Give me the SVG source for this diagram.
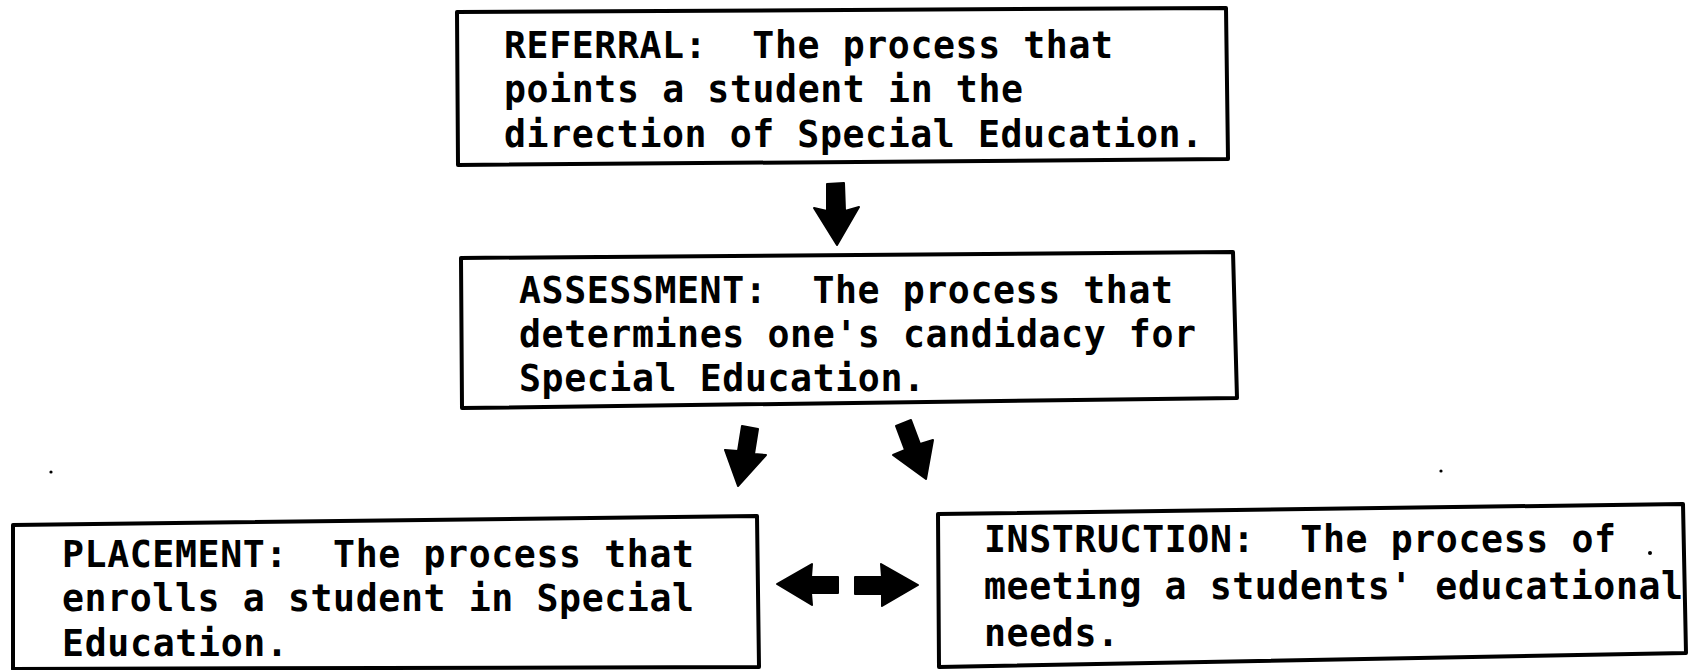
<svg xmlns="http://www.w3.org/2000/svg" width="1690" height="670" viewBox="0 0 1690 670">
  <style>
    .box { fill: #ffffff; stroke: #000000; stroke-width: 4; stroke-linejoin: round; }
    .label { font-family: "DejaVu Sans Mono", "Liberation Mono", monospace; font-weight: bold; font-size: 36.5px; fill: #000000; white-space: pre; }
    .arrow { fill: #000000; stroke: #000000; stroke-width: 2; stroke-linejoin: round; }
    .speck { fill: #000000; }
  </style>

  <rect x="0" y="0" width="1690" height="670" fill="#ffffff"/>

  <!-- Referral -->
  <g id="node-referral">
    <polygon class="box" points="457,12 1226,8 1228,159 458,165"/>
    <text class="label" x="504" y="58" textLength="609" xml:space="preserve">REFERRAL:  The process that</text>
    <text class="label" x="504" y="102" textLength="519">points a student in the</text>
    <text class="label" x="504" y="147" textLength="699">direction of Special Education.</text>
  </g>

  <!-- Assessment -->
  <g id="node-assessment">
    <polygon class="box" points="461,258 1233,252 1237,398 462,408"/>
    <text class="label" x="519" y="303" textLength="654" xml:space="preserve">ASSESSMENT:  The process that</text>
    <text class="label" x="519" y="347" textLength="677">determines one's candidacy for</text>
    <text class="label" x="519" y="391" textLength="406">Special Education.</text>
  </g>

  <!-- Placement -->
  <g id="node-placement">
    <polygon class="box" points="13,525 757,516 759,667 13,669"/>
    <text class="label" x="62" y="567" textLength="632" xml:space="preserve">PLACEMENT:  The process that</text>
    <text class="label" x="62" y="611" textLength="632">enrolls a student in Special</text>
    <text class="label" x="62" y="656" textLength="226">Education.</text>
  </g>

  <!-- Instruction -->
  <g id="node-instruction">
    <polygon class="box" points="938,514 1683,504 1686,653 939,667"/>
    <text class="label" x="984" y="552" textLength="632" xml:space="preserve">INSTRUCTION:  The process of</text>
    <text class="label" x="984" y="599" textLength="699">meeting a students' educational</text>
    <text class="label" x="984" y="646" textLength="135">needs.</text>
  </g>

  <!-- Block arrows between the stages -->
  <g id="connectors">
    <polygon class="arrow" points="827,184 844,183 845,211 859,207 837,245 814,208 827,211"/>
    <polygon class="arrow" points="742,426 758,429 754,454 766,455 738,486 725,450 738,451"/>
    <polygon class="arrow" points="896,426 911,420 920,444 933,440 926,479 893,455 905,450"/>
    <polygon class="arrow" points="777,584 812,564 811,577 838,577 838,593 811,593 812,605"/>
    <polygon class="arrow" points="855,577 882,577 881,564 918,585 882,606 882,594 855,594"/>
  </g>

  <!-- Small printing specks -->
  <g id="specks">
    <circle class="speck" cx="51" cy="472" r="1.6"/>
    <circle class="speck" cx="1441" cy="471" r="1.6"/>
    <circle class="speck" cx="1650" cy="553" r="2"/>
  </g>
</svg>
